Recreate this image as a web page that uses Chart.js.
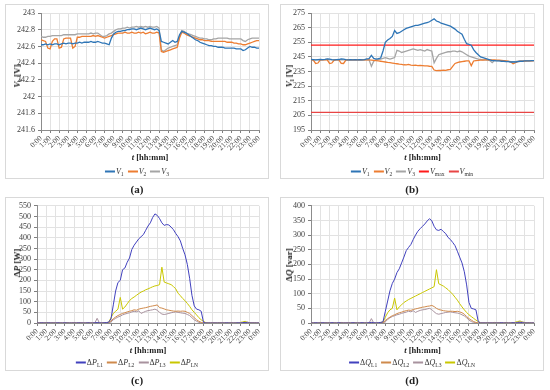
<!DOCTYPE html>
<html>
<head>
<meta charset="utf-8">
<script src="https://cdn.jsdelivr.net/npm/chart.js"></script>
<style>
  body { margin: 0; background: #fff; font-family: "Liberation Serif", "Times New Roman", serif; }
  #page { position: relative; width: 550px; height: 390px; overflow: hidden; background: #fff; }
  .panel { position: absolute; box-sizing: border-box; border: 1px solid #d9d9d9; }
  .panel canvas { position: absolute; left: 0; top: 0; }
  .ytitle { position: absolute; transform: translate(-50%, -50%) rotate(-90deg); font-size: 9px; font-weight: bold; white-space: nowrap; color: #222; }
  .xtitle { position: absolute; transform: translate(-50%, -50%); font-size: 8.5px; font-weight: bold; white-space: nowrap; color: #222; }
  .legend { position: absolute; transform: translate(-50%, -50%); font-size: 8px; white-space: nowrap; color: #333; }
  .legend .item { margin: 0 2px; }
  .legend .sw { display: inline-block; width: 10px; height: 1.5px; vertical-align: middle; margin-right: 1px; }
  sub { font-size: 70%; vertical-align: -2px; line-height: 0; }
  .cap { position: absolute; transform: translate(-50%, -50%); font-size: 11px; font-weight: bold; color: #222; }
</style>
</head>
<body>
<div id="page"></div>
<script>
// time stamps every 15 min, in hours
const times = [];
for (let i = 0; i <= 96; i++) times.push(i / 4);

// (a) voltages [V]
const a_V1 = [
  242.62, 242.62, 242.63, 242.62, 242.63, 242.62, 242.63, 242.63,
  242.62, 242.63, 242.64, 242.63, 242.64, 242.64, 242.63, 242.64,
  242.64, 242.65, 242.64, 242.65, 242.65, 242.65, 242.66, 242.65,
  242.65, 242.66, 242.65, 242.64, 242.64, 242.63, 242.62, 242.70,
  242.75, 242.77, 242.78, 242.78, 242.79, 242.79, 242.80, 242.80,
  242.81, 242.81, 242.80, 242.81, 242.82, 242.81, 242.80, 242.81,
  242.82, 242.81, 242.80, 242.81, 242.79, 242.66, 242.65, 242.64,
  242.63, 242.65, 242.67, 242.65, 242.66, 242.74, 242.78, 242.77,
  242.76, 242.74, 242.72, 242.70, 242.68, 242.67, 242.65, 242.64,
  242.63, 242.62, 242.61, 242.61, 242.60, 242.60, 242.59, 242.59,
  242.59, 242.58, 242.58, 242.58, 242.58, 242.58, 242.57, 242.57,
  242.57, 242.55, 242.56, 242.58, 242.60, 242.59, 242.59, 242.58,
  242.58
];
const a_V2 = [
  242.68, 242.67, 242.66, 242.58, 242.57, 242.66, 242.69, 242.69,
  242.58, 242.59, 242.69, 242.70, 242.70, 242.70, 242.58, 242.60,
  242.71, 242.71, 242.72, 242.72, 242.72, 242.72, 242.72, 242.73,
  242.72, 242.73, 242.72, 242.71, 242.70, 242.71, 242.72, 242.73,
  242.74, 242.75, 242.76, 242.76, 242.76, 242.77, 242.76, 242.76,
  242.77, 242.76, 242.76, 242.77, 242.76, 242.77, 242.75, 242.76,
  242.77, 242.76, 242.76, 242.77, 242.76, 242.54, 242.53, 242.54,
  242.55, 242.56, 242.57, 242.58, 242.59, 242.70, 242.77, 242.76,
  242.74, 242.73, 242.72, 242.71, 242.70, 242.69, 242.68, 242.68,
  242.67, 242.67, 242.67, 242.66, 242.66, 242.66, 242.66, 242.66,
  242.66, 242.66, 242.65, 242.65, 242.65, 242.64, 242.64, 242.63,
  242.63, 242.62, 242.62, 242.63, 242.64, 242.65, 242.66, 242.67,
  242.67
];
const a_V3 = [
  242.72, 242.71, 242.71, 242.72, 242.72, 242.73, 242.73, 242.73,
  242.73, 242.73, 242.74, 242.74, 242.74, 242.74, 242.74, 242.74,
  242.75, 242.75, 242.75, 242.75, 242.75, 242.75, 242.76, 242.75,
  242.76, 242.76, 242.74, 242.72, 242.72, 242.73, 242.75, 242.76,
  242.78, 242.80, 242.81, 242.81, 242.82, 242.82, 242.83, 242.82,
  242.83, 242.83, 242.84, 242.83, 242.84, 242.83, 242.84, 242.83,
  242.84, 242.83, 242.83, 242.84, 242.82, 242.56, 242.54, 242.56,
  242.58, 242.59, 242.60, 242.61, 242.62, 242.72, 242.79, 242.78,
  242.76, 242.75, 242.74, 242.73, 242.72, 242.71, 242.70, 242.70,
  242.69, 242.69, 242.68, 242.68, 242.69, 242.69, 242.70, 242.70,
  242.70, 242.70, 242.70, 242.69, 242.69, 242.69, 242.69, 242.69,
  242.69, 242.67, 242.66, 242.68, 242.69, 242.70, 242.70, 242.70,
  242.70
];

// (b) voltages [V]
const b_V1 = [
  243.2, 243.1, 243.0, 243.1, 243.2, 243.1, 243.3, 243.6,
  243.5, 243.1, 243.0, 243.1, 243.2, 243.6, 243.4, 243.1,
  243.0, 243.1, 243.0, 243.1, 243.0, 243.1, 243.0, 243.1,
  243.6, 243.8, 246.0, 244.0, 243.5, 243.8, 244.2, 249.0,
  255.0, 256.5, 257.5, 259.0, 263.0, 261.0, 261.5, 262.5,
  263.5, 264.5, 265.0, 265.5, 266.0, 266.5, 266.5, 267.0,
  267.5, 268.0, 268.5, 269.0, 270.0, 271.0, 269.5, 269.0,
  268.0, 267.5, 267.0, 266.5, 266.0, 265.0, 264.0, 262.5,
  261.5, 260.5, 257.0, 254.0, 253.5, 253.0, 250.0, 248.0,
  246.5, 245.0, 244.5, 244.0, 243.5, 243.0, 242.5, 242.5,
  242.3, 242.2, 242.0, 242.0, 241.8, 241.8, 241.5, 241.5,
  241.5, 241.8, 242.0, 242.0, 242.2, 242.3, 242.3, 242.4,
  242.5
];
const b_V2 = [
  243.0, 242.8, 240.5, 240.8, 242.9, 243.0, 243.0, 242.9,
  240.5, 240.8, 242.8, 243.0, 243.0, 240.6, 240.5, 242.8,
  243.0, 243.0, 243.0, 243.0, 243.0, 243.0, 242.9, 243.0,
  243.0, 242.9, 242.8, 242.6, 242.4, 242.2, 242.0, 241.8,
  241.5, 241.2, 241.0, 240.8, 240.5, 240.3, 240.0, 239.8,
  239.6, 239.5, 239.8, 239.4, 239.2, 239.3, 239.0, 239.2,
  239.0, 238.8, 238.9, 238.6, 238.5, 236.0, 235.6, 235.8,
  235.7, 236.0, 235.8, 236.2, 236.5, 238.5, 240.5, 241.0,
  241.5, 241.8, 242.0, 242.2, 242.3, 239.0, 242.2, 242.5,
  242.6, 242.8, 242.8, 243.0, 243.0, 243.0, 243.0, 242.9,
  242.8, 242.7, 242.6, 242.5, 242.3, 242.0, 241.5, 240.3,
  241.0, 241.8, 242.0, 242.0, 242.1, 242.2, 242.3, 242.3,
  242.4
];
const b_V3 = [
  243.2, 243.0, 243.0, 243.0, 243.1, 243.0, 243.1, 243.2,
  243.1, 243.0, 243.0, 243.1, 243.0, 243.1, 243.0, 243.0,
  243.0, 243.0, 243.1, 243.0, 243.0, 243.0, 243.0, 243.0,
  243.0, 243.0, 238.5, 242.0, 243.0, 243.2, 243.5, 244.0,
  244.5, 244.0, 243.5, 244.0, 244.5, 249.5, 249.0, 248.0,
  248.5, 249.0, 249.5, 250.0, 250.5, 250.0, 249.5, 250.0,
  249.5, 249.0, 250.0, 249.5, 249.0, 241.0, 244.0, 246.5,
  247.0, 247.5, 248.0, 248.5, 248.5, 249.0, 249.0, 248.5,
  249.0, 248.5, 247.5, 246.5, 245.5, 245.0, 244.5, 244.0,
  243.5, 243.3, 243.0, 243.0, 242.8, 242.5, 241.0, 242.5,
  242.5, 242.4, 242.3, 242.2, 242.0, 242.0, 241.8, 241.8,
  241.8, 242.0, 242.0, 242.1, 242.2, 242.2, 242.3, 242.3,
  242.4
];
const b_Vmax = 253;
const b_Vmin = 207;

// (c) power losses [W]
const c_P1 = [
  0, 0, 1, 0, 0, 1, 0, 0,
  0, 1, 0, 0, 1, 0, 0, 0,
  0, 0, 1, 0, 0, 0, 1, 0,
  0, 1, 2, 1, 0, 1, 2, 4,
  20, 85, 150, 190, 200, 250, 258, 285,
  305, 345, 365, 380, 395, 405, 415, 435,
  455, 470, 495, 512, 505, 490, 470, 458,
  462, 460, 450, 438, 420, 405, 385, 350,
  320, 275, 210, 130, 80, 65, 62, 55,
  3, 0, 0, 0, 0, 0, 0, 0,
  0, 0, 1, 0, 0, 0, 0, 1,
  0, 2, 3, 1, 0, 0, 0, 0,
  0
];
const c_P2 = [
  0, 0, 0, 0, 0, 0, 0, 0,
  0, 0, 0, 0, 0, 0, 0, 0,
  0, 0, 0, 0, 0, 0, 0, 0,
  0, 0, 0, 0, 0, 0, 0, 1,
  10, 20, 28, 35, 40, 45, 48, 52,
  55, 58, 62, 60, 65, 68, 70, 72,
  75, 78, 80, 82, 85, 72, 70, 66,
  62, 60, 58, 56, 55, 56, 55, 56,
  55, 50, 45, 35, 25, 15, 8, 3,
  0, 0, 0, 0, 0, 0, 0, 0,
  0, 0, 0, 0, 0, 0, 0, 0,
  0, 0, 2, 0, 0, 0, 0, 0,
  0
];
const c_P3 = [
  0, 0, 0, 0, 0, 0, 0, 0,
  0, 0, 0, 0, 0, 0, 0, 0,
  0, 0, 0, 0, 0, 0, 0, 0,
  0, 0, 22, 0, 0, 0, 0, 0,
  5, 15, 22, 28, 32, 38, 42, 45,
  48, 52, 55, 53, 57, 45, 50, 55,
  58, 60, 62, 65, 60, 50, 42, 40,
  42, 45, 48, 50, 52, 50, 48, 46,
  45, 40, 35, 25, 15, 8, 3, 0,
  0, 0, 0, 0, 0, 0, 0, 0,
  0, 0, 0, 0, 0, 0, 0, 0,
  0, 0, 0, 5, 0, 0, 0, 0,
  0
];
const c_PN = [
  0, 1, 0, 0, 2, 0, 0, 1,
  0, 0, 1, 0, 0, 2, 0, 0,
  1, 0, 0, 1, 0, 0, 0, 1,
  0, 0, 2, 0, 0, 1, 2, 3,
  25, 45, 55, 65, 120, 65, 75, 90,
  105, 115, 122, 130, 138, 145, 150, 156,
  160, 165, 170, 174, 176, 180, 262, 192,
  188, 184, 180, 171, 160, 140, 128, 115,
  105, 92, 78, 62, 50, 38, 25, 15,
  8, 2, 0, 0, 1, 0, 0, 2,
  0, 1, 0, 0, 2, 0, 1, 0,
  3, 5, 8, 3, 2, 0, 1, 0,
  0
];

// (d) reactive power losses [var]
const d_Q1 = [
  0, 0, 1, 0, 0, 1, 0, 0,
  0, 1, 0, 0, 1, 0, 0, 0,
  0, 0, 1, 0, 0, 0, 1, 0,
  0, 1, 2, 1, 0, 1, 2, 4,
  40, 75, 110, 135, 150, 172, 185, 205,
  225, 247, 258, 268, 285, 300, 313, 322,
  330, 338, 348, 356, 349, 330, 318, 316,
  320, 312, 305, 292, 285, 275, 264, 245,
  225, 205, 175, 130, 70, 50, 48, 45,
  5, 0, 0, 0, 0, 0, 0, 0,
  0, 0, 1, 0, 0, 0, 0, 1,
  0, 2, 3, 1, 0, 0, 0, 0,
  0
];
const d_Q2 = [
  0, 0, 0, 0, 0, 0, 0, 0,
  0, 0, 0, 0, 0, 0, 0, 0,
  0, 0, 0, 0, 0, 0, 0, 0,
  0, 0, 0, 0, 0, 0, 0, 1,
  8, 15, 20, 25, 28, 32, 35, 37,
  40, 42, 44, 43, 46, 48, 50, 52,
  54, 55, 57, 58, 60, 56, 50, 46,
  44, 42, 41, 40, 40, 40, 39, 40,
  38, 35, 30, 22, 15, 10, 5, 2,
  0, 0, 0, 0, 0, 0, 0, 0,
  0, 0, 0, 0, 0, 0, 0, 0,
  0, 0, 2, 0, 0, 0, 0, 0,
  0
];
const d_Q3 = [
  0, 0, 0, 0, 0, 0, 0, 0,
  0, 0, 0, 0, 0, 0, 0, 0,
  0, 0, 0, 0, 0, 0, 0, 0,
  0, 0, 15, 0, 0, 0, 0, 0,
  4, 12, 18, 22, 25, 28, 30, 33,
  35, 37, 40, 38, 42, 36, 40, 43,
  45, 46, 48, 50, 46, 38, 32, 30,
  32, 34, 36, 37, 38, 36, 35, 34,
  32, 28, 24, 18, 10, 5, 2, 0,
  0, 0, 0, 0, 0, 0, 0, 0,
  0, 0, 0, 0, 0, 0, 0, 0,
  0, 0, 0, 4, 0, 0, 0, 0,
  0
];
const d_QN = [
  0, 1, 0, 0, 2, 0, 0, 1,
  0, 0, 1, 0, 0, 2, 0, 0,
  1, 0, 0, 1, 0, 0, 0, 1,
  0, 0, 2, 0, 0, 1, 2, 3,
  20, 35, 45, 50, 85, 45, 55, 62,
  70, 75, 80, 84, 88, 92, 96, 100,
  104, 108, 112, 116, 120, 124, 182, 134,
  130, 126, 120, 114, 106, 98, 88, 78,
  66, 55, 45, 36, 28, 22, 16, 10,
  5, 1, 0, 0, 1, 0, 0, 2,
  0, 1, 0, 0, 2, 0, 1, 0,
  3, 5, 7, 3, 2, 0, 1, 0,
  0
];

const FONT = '"Liberation Serif", "Times New Roman", serif';
const page = document.getElementById('page');

function toPts(vals) {
  return vals.map((v, i) => ({ x: times[i], y: v }));
}
function flat(v) {
  return [{ x: times[0], y: v }, { x: times[times.length - 1], y: v }];
}

function addDiv(cls, html, x, y) {
  const d = document.createElement('div');
  d.className = cls;
  d.innerHTML = html;
  d.style.left = x + 'px';
  d.style.top = y + 'px';
  page.appendChild(d);
  return d;
}

function drawPanel(p) {
  const [bx, by, bw, bh] = p.box;
  const box = document.createElement('div');
  box.className = 'panel';
  box.style.left = bx + 'px'; box.style.top = by + 'px';
  box.style.width = bw + 'px'; box.style.height = bh + 'px';
  page.appendChild(box);

  const W = bw - 2, H = bh - 2;
  const cv = document.createElement('canvas');
  cv.width = W; cv.height = H;
  cv.style.width = W + 'px'; cv.style.height = H + 'px';
  box.appendChild(cv);

  // wanted plot area, page coords -> canvas coords
  const ox = bx + 1, oy = by + 1;
  const aL = p.plot[0] - ox, aT = p.plot[1] - oy, aR = p.plot[2] - ox, aB = p.plot[3] - oy;
  const padL = 2, XH = 24;

  new Chart(cv, {
    type: 'line',
    data: {
      datasets: p.series.map(s => ({
        label: s.key,
        data: s.data,
        borderColor: s.color,
        backgroundColor: s.color,
        borderWidth: s.width || p.lw,
        pointRadius: 0,
        tension: 0,
        fill: false
      }))
    },
    options: {
      responsive: false,
      animation: false,
      layout: { padding: { left: padL, right: W - aR, top: aT, bottom: H - aB - XH } },
      plugins: { legend: { display: false }, tooltip: { enabled: false } },
      scales: {
        x: {
          type: 'linear', min: 0, max: 24,
          afterFit: s => { s.height = XH; },
          ticks: {
            stepSize: 1, autoSkip: false, maxRotation: 45, minRotation: 45, padding: 1,
            font: { family: FONT, size: 7.5 }, color: '#404040',
            callback: v => (v % 24) + ':00'
          },
          grid: { color: '#e2e2e2', tickColor: '#7f7f7f', tickLength: 3, lineWidth: 1 },
          border: { color: '#8c8c8c', width: 1 }
        },
        y: {
          min: p.yMin, max: p.yMax,
          afterFit: s => { s.width = aL - padL; },
          ticks: {
            stepSize: p.yStep, autoSkip: false, padding: 3,
            font: { family: FONT, size: 8 }, color: '#404040',
            callback: v => String(Number(v.toFixed(1)))
          },
          grid: { color: '#e2e2e2', tickColor: '#7f7f7f', tickLength: 3, lineWidth: 1 },
          border: { color: '#8c8c8c', width: 1 }
        }
      }
    }
  });

  // titles and legend as html (they need subscripts)
  const cx = (p.plot[0] + p.plot[2]) / 2;
  addDiv('ytitle', p.yTitle, p.yTitleX, p.yTitleY);
  addDiv('xtitle', '<i>t</i> [hh:mm]', cx, p.plot[3] + 27);
  const leg = p.series.filter(s => s.name).map(s =>
    '<span class="item"><span class="sw" style="background:' + s.color + '"></span>' + s.name + '</span>'
  ).join('');
  addDiv('legend', leg, bx + bw / 2, p.plot[3] + p.legDy);
  addDiv('cap', p.cap, bx + bw / 2, p.capY);
}

const cBlue = '#2E75B6', cOrange = '#ED7D31', cGray = '#A5A5A5';
const cL1 = '#4141BE', cL2 = '#CF8A4C', cL3 = '#A8929E', cLN = '#C9C700';

drawPanel({
  box: [5, 4, 264, 175], plot: [41, 13, 259, 130], lw: 1.3,
  yMin: 241.6, yMax: 243, yStep: 0.2,
  yTitle: '<i>V</i><sub>s</sub> [V]', yTitleX: 17, yTitleY: 76,
  legDy: 41, cap: '(a)', capY: 189,
  series: [
    { key: 'V1', name: '<i>V</i><sub>1</sub>', color: cBlue, data: toPts(a_V1) },
    { key: 'V2', name: '<i>V</i><sub>2</sub>', color: cOrange, data: toPts(a_V2) },
    { key: 'V3', name: '<i>V</i><sub>3</sub>', color: cGray, data: toPts(a_V3) }
  ]
});

drawPanel({
  box: [280, 4, 264, 175], plot: [311, 13, 534, 130], lw: 1.3,
  yMin: 195, yMax: 275, yStep: 10,
  yTitle: '<i>V</i><sub>l</sub> [V]', yTitleX: 289, yTitleY: 76,
  legDy: 41, cap: '(b)', capY: 189,
  series: [
    { key: 'V1', name: '<i>V</i><sub>1</sub>', color: cBlue, data: toPts(b_V1) },
    { key: 'V2', name: '<i>V</i><sub>2</sub>', color: cOrange, data: toPts(b_V2) },
    { key: 'V3', name: '<i>V</i><sub>3</sub>', color: cGray, data: toPts(b_V3) },
    { key: 'Vmax', name: '<i>V</i><sub>max</sub>', color: '#FF1A1A', data: flat(b_Vmax) },
    { key: 'Vmin', name: '<i>V</i><sub>min</sub>', color: '#E84545', data: flat(b_Vmin) }
  ]
});

drawPanel({
  box: [5, 197, 264, 174], plot: [37, 205, 259, 323], lw: 1,
  yMin: 0, yMax: 550, yStep: 50,
  yTitle: 'Δ<i>P</i> [W]', yTitleX: 17, yTitleY: 263,
  legDy: 39, cap: '(c)', capY: 380,
  series: [
    { key: 'P1', name: 'Δ<i>P</i><sub>L1</sub>', color: cL1, data: toPts(c_P1) },
    { key: 'P2', name: 'Δ<i>P</i><sub>L2</sub>', color: cL2, data: toPts(c_P2) },
    { key: 'P3', name: 'Δ<i>P</i><sub>L3</sub>', color: cL3, data: toPts(c_P3) },
    { key: 'PN', name: 'Δ<i>P</i><sub>LN</sub>', color: cLN, data: toPts(c_PN) }
  ]
});

drawPanel({
  box: [280, 197, 264, 174], plot: [311, 205, 534, 323], lw: 1,
  yMin: 0, yMax: 400, yStep: 50,
  yTitle: 'Δ<i>Q</i> [var]', yTitleX: 289, yTitleY: 265,
  legDy: 39, cap: '(d)', capY: 380,
  series: [
    { key: 'Q1', name: 'Δ<i>Q</i><sub>L1</sub>', color: cL1, data: toPts(d_Q1) },
    { key: 'Q2', name: 'Δ<i>Q</i><sub>L2</sub>', color: cL2, data: toPts(d_Q2) },
    { key: 'Q3', name: 'Δ<i>Q</i><sub>L3</sub>', color: cL3, data: toPts(d_Q3) },
    { key: 'QN', name: 'Δ<i>Q</i><sub>LN</sub>', color: cLN, data: toPts(d_QN) }
  ]
});
</script>
</body>
</html>
